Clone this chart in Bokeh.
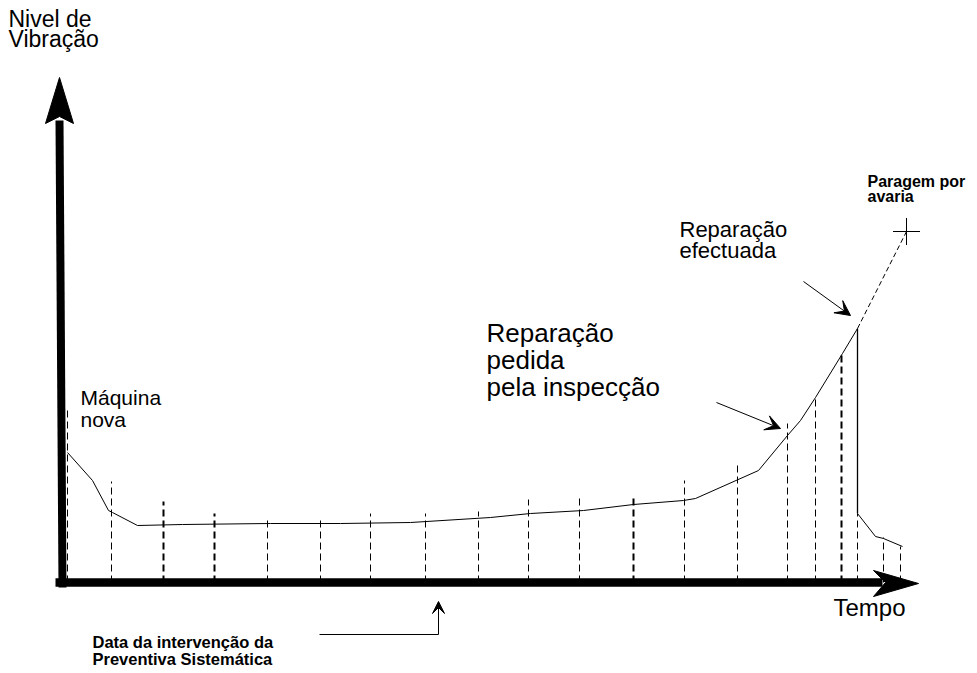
from bokeh.plotting import figure
from bokeh.models import Range1d, Arrow, VeeHead
from bokeh.core.properties import value
from bokeh.embed import file_html
from bokeh.resources import INLINE

# ---------------- data (time units / vibration-level units) ----------------
# vibration level curve of the machine until repair
curve_t = [5, 30, 46, 50, 75, 120, 208, 278, 348, 428, 468, 521, 571, 621, 633, 696, 725, 738, 753, 780, 795]
curve_v = [130, 102, 72, 70, 57, 58, 59, 59, 60, 65, 69, 72, 78, 82, 84, 112, 147, 162, 185, 229, 254]
# projected evolution until failure ("Paragem por avaria")
proj_t = [795, 844]
proj_v = [254, 351]
# drop after the repair and evolution afterwards
repair_t = [795, 795]
repair_v = [254, 69]
post_t = [795, 813, 821, 840]
post_v = [69, 46, 44, 36]
# inspection dates (systematic preventive interventions) and measured level
insp_t = [5, 49, 101, 152, 205, 258, 308, 363, 416, 466, 517, 571, 622, 675, 725, 753, 779, 795, 821, 838]
insp_v = [175, 101, 81, 69, 66, 66, 69, 69, 71, 83, 88, 88, 102, 119, 159, 185, 229, 69, 45, 36]
insp_bold = [101, 152, 571, 779]

# axes extents
T_MIN, T_MAX = -62, 915
V_MIN, V_MAX = -91, 582

# annotations
labels_y = ["Nivel de", "Vibração"]
label_x = "Tempo"
label_new = ["Máquina", "nova"]
label_req = ["Reparação", "pedida", "pela inspecção"]
label_done = ["Reparação", "efectuada"]
label_fail = ["Paragem por", "avaria"]
label_date = ["Data da intervenção da", "Preventiva Sistemática"]

FONT = "Liberation Sans"

p = figure(width=977, height=673, output_backend="svg", toolbar_location=None,
           x_range=Range1d(T_MIN, T_MAX), y_range=Range1d(V_MIN, V_MAX),
           x_axis_location=None, y_axis_location=None,
           min_border=0, min_border_left=0, min_border_right=0,
           min_border_top=0, min_border_bottom=0)
p.grid.visible = False
p.outline_line_color = None
p.background_fill_color = "white"
p.border_fill_color = "white"

# inspection dashed lines
for t, v in zip(insp_t, insp_v):
    w = 2 if t in insp_bold else 1
    p.line([t, t], [0, v], line_color="black", line_width=w, line_dash="7 4")

# curves
p.line(curve_t, curve_v, line_color="black", line_width=1)
p.line(proj_t, proj_v, line_color="black", line_width=1, line_dash="5 3")
p.line(repair_t, repair_v, line_color="black", line_width=1.3)
p.line(post_t, post_v, line_color="black", line_width=1)
p.scatter([proj_t[-1]], [proj_v[-1]], marker="cross", size=27, line_color="black",
          line_width=1)

# axes with thick arrows
p.line([0, -3], [-5, 462], line_color="black", line_width=8)
p.patch([-3, -17, -3, 11], [505, 459, 466, 459], fill_color="black", line_color="black")
p.line([-7, 820], [0, 0], line_color="black", line_width=8.5)
p.patch([856, 811, 823, 811], [-1, 12, 0, -14], fill_color="black", line_color="black")

# annotation arrows
for (xs, ys, xe, ye) in [(654, 180, 718, 154), (741, 301, 788, 267)]:
    p.add_layout(Arrow(x_start=xs, y_start=ys, x_end=xe, y_end=ye, line_width=1,
                       end=VeeHead(size=15, fill_color="black", line_color="black")))
p.line([257, 376], [-52, -52], line_color="black", line_width=1)
p.add_layout(Arrow(x_start=376, y_start=-52, x_end=376, y_end=-19, line_width=1,
                   end=VeeHead(size=12, fill_color="black", line_color="black")))

def txt(x, ys, lines, size, style="normal"):
    shift = 0.37 * size
    p.text(x=[x] * len(lines), y=[y + shift for y in ys], text=lines,
           text_font=value(FONT), text_font_size=f"{size}px", text_font_style=style,
           text_color="black", text_align="left", text_baseline="alphabetic")

txt(-54, [555, 535], labels_y, 23)
txt(18, [177, 155], label_new, 21)
txt(424, [240, 213, 186], label_req, 26)
txt(617, [345, 324], label_done, 22)
txt(805, [395, 380], label_fail, 16, "bold")
txt(771, [-34], [label_x], 24)
txt(30, [-66, -83], label_date, 16.5, "bold")

open("out.html", "w").write(file_html(p, INLINE))
